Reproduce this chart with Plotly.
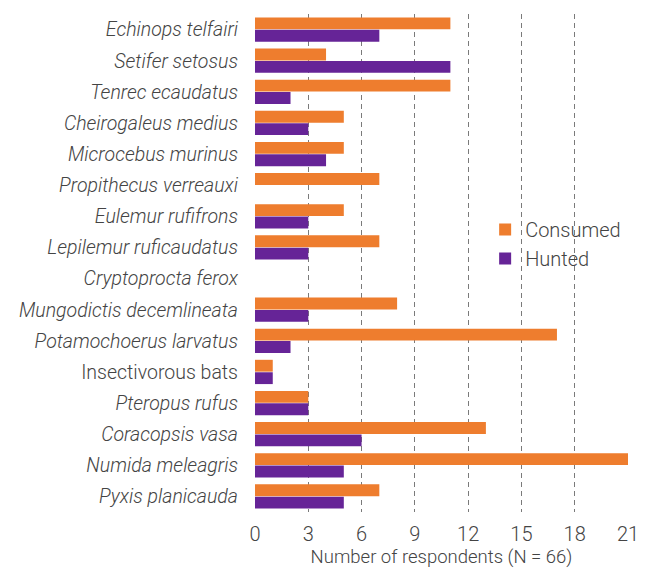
import plotly.graph_objects as go

species = ["Echinops telfairi", "Setifer setosus", "Tenrec ecaudatus", "Cheirogaleus medius",
           "Microcebus murinus", "Propithecus verreauxi", "Eulemur rufifrons",
           "Lepilemur ruficaudatus", "Cryptoprocta ferox", "Mungodictis decemlineata",
           "Potamochoerus larvatus", "Insectivorous bats", "Pteropus rufus",
           "Coracopsis vasa", "Numida meleagris", "Pyxis planicauda"]
italic = [True]*11 + [False] + [True]*4
consumed = [11, 4, 11, 5, 5, 7, 5, 7, 0, 8, 17, 1, 3, 13, 21, 7]
hunted = [7, 11, 2, 3, 4, 0, 3, 3, 0, 3, 2, 1, 3, 6, 5, 5]
x_ticks = [0, 3, 6, 9, 12, 15, 18, 21]

labels = [f"<i>{s}</i>" if it else s for s, it in zip(species, italic)]

fig = go.Figure()
fig.add_trace(go.Bar(y=labels, x=consumed, orientation="h", name="Consumed",
                     marker=dict(color="#EE7D2E", line=dict(width=0))))
fig.add_trace(go.Bar(y=labels, x=hunted, orientation="h", name="Hunted",
                     marker=dict(color="#662497", line=dict(width=0))))

fig.update_layout(
    width=646, height=568,
    margin=dict(l=247, r=26, t=6, b=64),
    barmode="group", bargap=0.2, bargroupgap=0.05,
    plot_bgcolor="white", paper_bgcolor="white",
    font=dict(family="Roboto", size=19, color="#444444", weight=300),
    legend=dict(x=0.617, y=0.538, xanchor="left", yanchor="middle",
                font=dict(size=20, color="#444444", weight=300), bgcolor="rgba(0,0,0,0)",
                tracegroupgap=0),
    xaxis=dict(range=[0, 21], tickvals=x_ticks, showgrid=True, gridcolor="#7a7a7a",
               griddash="5px,4px", gridwidth=1, zeroline=False, showline=False,
               ticks="", tickfont=dict(size=20, weight=300), automargin=False,
               ticklabelstandoff=8,
               title=dict(text="Number of respondents (N = 66)",
                          font=dict(size=18.5, weight=300), standoff=0)),
    yaxis=dict(autorange="reversed", showgrid=False, ticks="", showline=False,
               tickfont=dict(size=19.5, weight=300), ticklabelstandoff=16, automargin=False),
)
fig.write_html("out.html")
